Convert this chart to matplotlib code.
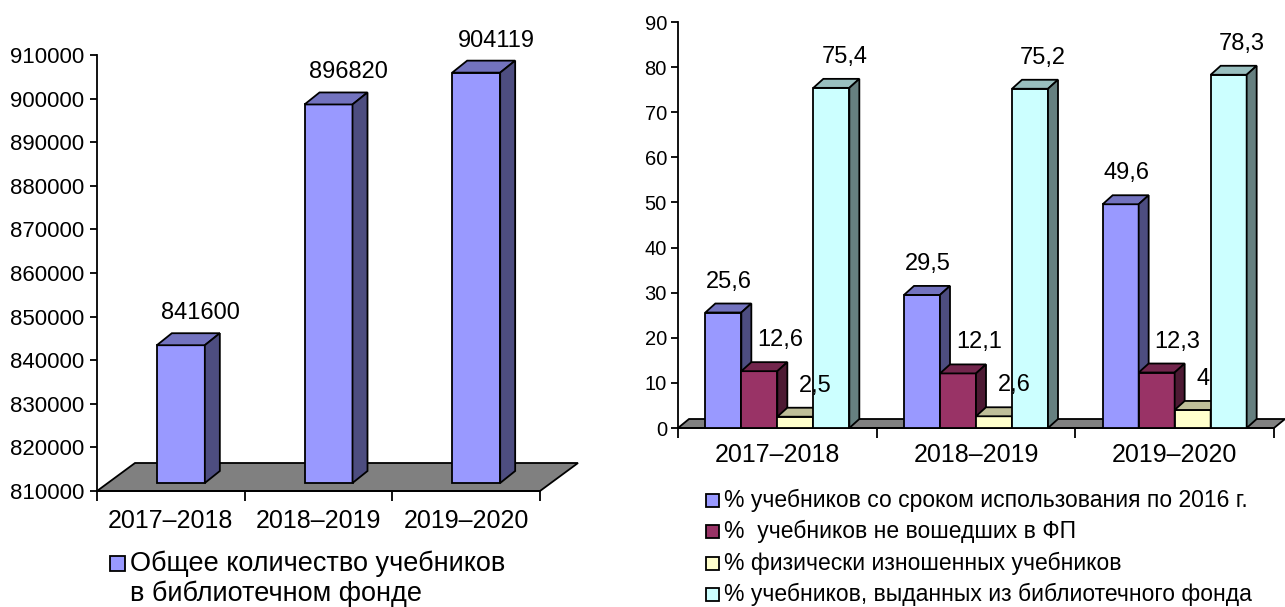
import matplotlib
matplotlib.use("Agg")
import matplotlib.pyplot as plt
from matplotlib.patches import Polygon, Rectangle
from matplotlib.colors import to_rgb
from matplotlib.ticker import FixedLocator, NullFormatter, FixedFormatter

plt.rcParams['font.family'] = ['Liberation Sans', 'DejaVu Sans']

years = ['2017–2018', '2018–2019', '2019–2020']

# left chart
total_books = [841600, 896820, 904119]
total_name = ['Общее количество учебников', 'в библиотечном фонде']
total_color = '#9999FF'

# right chart
share_old = [25.6, 29.5, 49.6]
share_not_fp = [12.6, 12.1, 12.3]
share_worn = [2.5, 2.6, 4.0]
share_issued = [75.4, 75.2, 78.3]
share_names = ['% учебников со сроком использования по 2016 г.',
               '%  учебников не вошедших в ФП',
               '% физически изношенных учебников',
               '% учебников, выданных из библиотечного фонда']
share_colors = ['#9999FF', '#993366', '#FFFFCC', '#CCFFFF']

W, H = 1285, 607
fig = plt.figure(figsize=(W / 100, H / 100), dpi=100)


def px_axes(x0, x1, yb, yt):
    return fig.add_axes([x0 / W, (H - yb) / H, (x1 - x0) / W, (yb - yt) / H])


def shade(c, k):
    return tuple(v * k for v in to_rgb(c))


def box(ax, x0, x1, y0, y1, dx, dy, color, z):
    kw = dict(ec='black', lw=1.3, joinstyle='miter', clip_on=False, zorder=z)
    ax.add_patch(Polygon([(x0, y0), (x1, y0), (x1, y1), (x0, y1)], fc=color, **kw))
    ax.add_patch(Polygon([(x0, y1), (x1, y1), (x1 + dx, y1 + dy), (x0 + dx, y1 + dy)],
                         fc=shade(color, 0.75), **kw))
    ax.add_patch(Polygon([(x1, y0), (x1 + dx, y0 + dy), (x1 + dx, y1 + dy), (x1, y1)],
                         fc=shade(color, 0.5), **kw))


def style_axes(ax, ysize, ypad, xsize, xpad):
    for s in ['top', 'right']:
        ax.spines[s].set_visible(False)
    for s in ['left', 'bottom']:
        ax.spines[s].set_linewidth(1.3)
    ax.xaxis.set_major_locator(FixedLocator([0, 1, 2, 3]))
    ax.xaxis.set_major_formatter(NullFormatter())
    ax.xaxis.set_minor_locator(FixedLocator([0.5, 1.5, 2.5]))
    ax.xaxis.set_minor_formatter(FixedFormatter(years))
    ax.tick_params(axis='x', which='major', direction='out', length=7, width=1.3)
    ax.tick_params(axis='x', which='minor', length=0, labelsize=xsize, pad=xpad)
    ax.tick_params(axis='y', direction='out', length=5, width=1.3, labelsize=ysize, pad=ypad)
    ax.set_xlim(0, 3)


# ---------- left chart ----------
ax1 = px_axes(97, 540, 491, 55)
ax1.set_ylim(810000, 910000)
ax1.set_yticks(range(810000, 910001, 10000))
style_axes(ax1, 16, 4, 18, 13)
sx = 3 / 443
sy = 100000 / 436
ax1.add_patch(Polygon([(0, 810000), (3, 810000), (3 + 38 * sx, 810000 + 28 * sy),
                       (38 * sx, 810000 + 28 * sy)], fc='#808080', ec='black', lw=1.3,
                      clip_on=False, zorder=1))
bw = 48 * sx
for i, v in enumerate(total_books):
    x0 = i + 0.5 - bw / 2 + 10 * sx
    box(ax1, x0, x0 + bw, 810000 + 8 * sy, v + 8 * sy, 15 * sx, 12 * sy, total_color, 3)
    ax1.annotate(str(v), (x0 + bw / 2, v + 8 * sy), xytext=(20, 32),
                 textcoords='offset pixels', ha='center', va='center', fontsize=17,
                 annotation_clip=False, zorder=10)

fig.add_artist(Rectangle((110 / W, 1 - 571 / H), 15 / W, 15 / H, fc=total_color,
                         ec='black', lw=1.3, transform=fig.transFigure))
for j, line in enumerate(total_name):
    fig.text(130 / W, 1 - (564 + 30 * j) / H, line, fontsize=19.5, ha='left',
             va='center')

# ---------- right chart ----------
ax2 = px_axes(678, 1274, 428, 22)
ax2.set_ylim(0, 90)
ax2.set_yticks(range(0, 91, 10))
style_axes(ax2, 14.5, 3, 18, 11)
sx = 3 / 596
sy = 90 / 406
ax2.add_patch(Polygon([(0, 0), (3, 0), (3 + 11 * sx, 9 * sy), (11 * sx, 9 * sy)],
                      fc='#808080', ec='black', lw=1.3, clip_on=False, zorder=1))
series = [share_old, share_not_fp, share_worn, share_issued]
label_dx = [1, 16, 22, 8]
bw = 36 * sx
for i in range(3):
    start = i + (1 - 4 * bw) / 2
    for k, vals in enumerate(series):
        v = vals[i]
        x0 = start + k * bw
        box(ax2, x0, x0 + bw, 0, v, 10 * sx, 9 * sy, share_colors[k], 3)
        txt = ('%g' % v).replace('.', ',')
        ax2.annotate(txt, (x0, v), xytext=(label_dx[k], 31), textcoords='offset pixels',
                     ha='left', va='center', fontsize=17, annotation_clip=False, zorder=10)

for k, name in enumerate(share_names):
    yc = 500 + k * 31.5
    fig.add_artist(Rectangle((706 / W, 1 - (yc + 6.5) / H), 13 / W, 13 / H,
                             fc=share_colors[k], ec='black', lw=1.3,
                             transform=fig.transFigure))
    fig.text(724 / W, 1 - yc / H, name, fontsize=16.5, ha='left', va='center')

fig.savefig('out.png', dpi=100)
